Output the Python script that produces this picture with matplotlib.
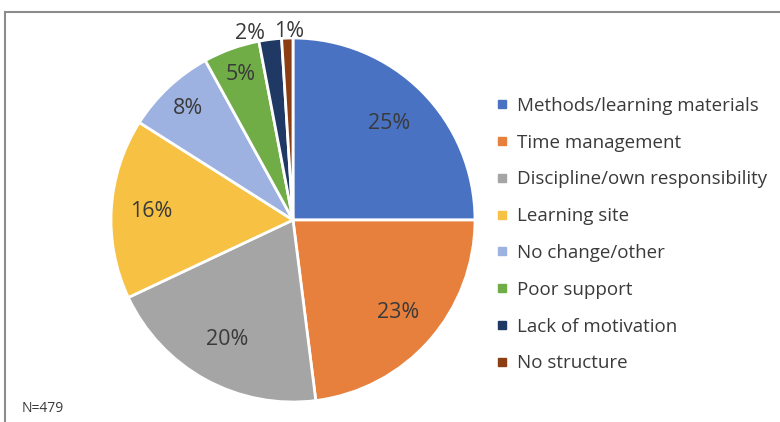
import matplotlib
matplotlib.use("Agg")
import matplotlib.pyplot as plt
from matplotlib.lines import Line2D
import numpy as np

categories = ["Methods/learning materials", "Time management",
              "Discipline/own responsibility", "Learning site",
              "No change/other", "Poor support", "Lack of motivation",
              "No structure"]
values = [25, 23, 20, 16, 8, 5, 2, 1]
note = "N=479"

colors = ["#4A72C2", "#E6803C", "#A5A5A5", "#F7C143",
          "#9DB2E0", "#70AD47", "#1F3864", "#8B3E14"]
label_r = [0.75, 0.77, 0.75, 0.78, 0.84, 0.85, 1.035, 1.035]
label_dx = [0, 0, 0, 0, 0, 0, -0.107, 0.01]

plt.rcParams['font.family'] = ['Open Sans', 'DejaVu Sans']
W, H = 780, 422
fig = plt.figure(figsize=(W / 100, H / 100), dpi=100)

cx, cy, r = 293, 220, 182
ax = fig.add_axes([(cx - r) / W, (H - cy - r) / H, 2 * r / W, 2 * r / H])
wedges, _ = ax.pie(values, colors=colors, startangle=90, counterclock=False,
                   radius=1, wedgeprops=dict(edgecolor="white", linewidth=2))
ax.set_xlim(-1, 1)
ax.set_ylim(-1, 1)
ax.set_aspect('equal')
ax.axis('off')

for w, v, lr, dx in zip(wedges, values, label_r, label_dx):
    ang = np.deg2rad((w.theta1 + w.theta2) / 2)
    ax.text(lr * np.cos(ang) + dx, lr * np.sin(ang), f"{v}%",
            ha='center', va='center', fontsize=15.5, color="#3a3a3a",
            clip_on=False)

handles = [Line2D([0], [0], marker='s', linestyle='none', markersize=5.5,
                  markerfacecolor=c, markeredgecolor=c) for c in colors]
fig.legend(handles, categories, loc='upper left',
           bbox_to_anchor=(496 / W, (H - 97) / H), frameon=False,
           fontsize=13.5, labelcolor="#3a3a3a", handlelength=0.6,
           handletextpad=0.5, labelspacing=1.0, borderpad=0,
           borderaxespad=0)

fig.text(22 / W, (H - 408) / H, note, fontsize=10, color="#3a3a3a",
         ha='left', va='center')

# outer frame (top and left edges visible)
fig.add_artist(Line2D([5 / W, 5 / W], [0, (H - 12) / H], color="#8c8c8c",
                      linewidth=1.5, transform=fig.transFigure))
fig.add_artist(Line2D([5 / W, 1], [(H - 12) / H, (H - 12) / H],
                      color="#8c8c8c", linewidth=1.5,
                      transform=fig.transFigure))

fig.savefig("out.png", dpi=100)
